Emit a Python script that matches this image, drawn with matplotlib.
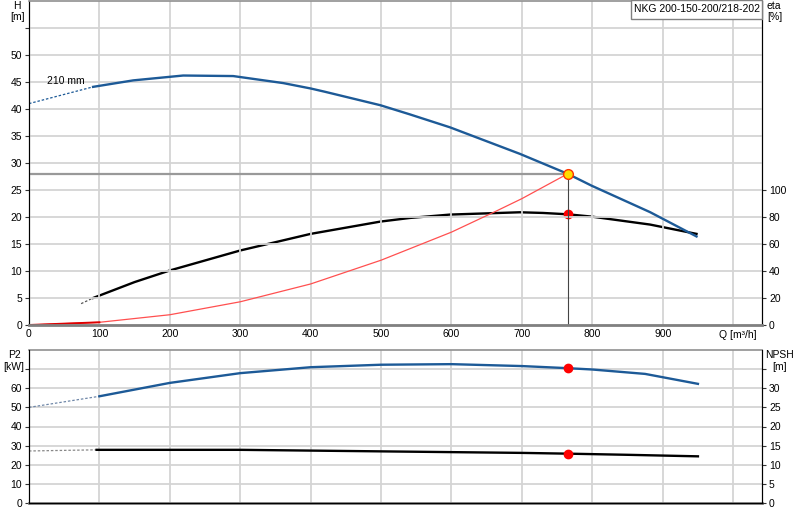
import matplotlib.pyplot as plt
from matplotlib.patches import Rectangle

plt.rcParams['font.family'] = ['Liberation Sans', 'DejaVu Sans']
plt.rcParams['font.size'] = 7.5

# head curve 210 mm (blue)
q_h_dot = [0, 91]
h_dot = [41.0, 44.1]
q_h = [91, 148, 219, 290, 361, 400, 420, 499, 541, 598, 697, 765, 799, 882, 948]
h = [44.1, 45.3, 46.2, 46.1, 44.8, 43.8, 43.2, 40.7, 39.0, 36.6, 31.7, 28.0, 25.8, 20.9, 16.4]

# efficiency (black), in %
q_eta_dot = [74, 91]
eta_dot = [15.8, 20.0]
q_eta = [91, 150, 200, 300, 400, 499, 541, 598, 697, 730, 765, 799, 882, 948]
eta = [20.0, 31.8, 40.4, 55.2, 67.5, 76.6, 79.3, 81.8, 83.5, 83.0, 82.0, 80.3, 74.4, 67.5]

# system curve (red)
q_sys = [0, 100, 200, 300, 400, 500, 600, 662, 700, 765]
h_sys = [0, 0.5, 1.9, 4.3, 7.6, 12.0, 17.2, 21.0, 23.4, 28.0]

# duty point
q_op = 765
h_op = 28.0
eta_op = 82.0
p2_op = 70.5
npsh_op = 12.9

# power P2 (blue) and NPSH (black)
q_p2_dot = [0, 100]
p2_dot = [50.0, 55.8]
q_p2 = [100, 200, 300, 400, 500, 600, 700, 765, 800, 875, 950]
p2 = [55.8, 62.8, 67.9, 71.0, 72.3, 72.6, 71.6, 70.5, 69.8, 67.5, 62.3]
q_npsh_dot = [0, 96]
npsh_dot = [13.6, 13.9]
q_npsh = [96, 300, 400, 500, 600, 700, 765, 850, 950]
npsh = [13.9, 13.9, 13.7, 13.5, 13.3, 13.1, 12.9, 12.6, 12.2]

blue = '#1d5a97'
grid_c = '#d4d4d4'

fig = plt.figure(figsize=(8, 5.2), dpi=100)
ax = fig.add_axes([29/800, 1 - 325/520, 733/800, 324/520])
ax2 = ax.twinx()
bx = fig.add_axes([29/800, 1 - 503/520, 733/800, 153/520])
bx2 = bx.twinx()

xmax = 1041
for a in (ax, bx):
    a.set_xlim(0, xmax)
    a.set_xticks(range(100, 1001, 100))
    for q in range(100, 1001, 100):
        a.axvline(q, color=grid_c, lw=1.3, zorder=0)
    a.spines['left'].set_color('black')
    a.spines['bottom'].set_color('#808080')
    a.spines['bottom'].set_linewidth(2)
    a.spines['top'].set_color('#909090')
    a.spines['top'].set_linewidth(1.2)
    a.tick_params(axis='y', length=3, width=0.8, color='#333333', pad=2)
    a.tick_params(axis='x', length=0, pad=3)

# top panel
ax.set_ylim(0, 60)
ax.set_yticks(range(0, 56, 5))
ax.set_yticklabels([str(v) for v in range(0, 51, 5)] + [''])
for v in range(5, 56, 5):
    ax.axhline(v, color=grid_c, lw=1.3, zorder=0)
ax.set_xticks(range(0, 1001, 100))
ax.set_xticklabels([str(v) for v in range(0, 901, 100)] + [''])

ax2.set_ylim(0, 240)
ax2.set_yticks(range(0, 101, 20))
ax2.spines['right'].set_color('black')
ax2.spines['top'].set_visible(False)
ax2.tick_params(axis='y', length=3, width=0.8, color='#333333', pad=2)

ax.plot(q_h_dot, h_dot, color=blue, lw=0.9, ls=(0, (2, 1.5)))
ax.plot(q_h, h, color=blue, lw=1.7)
ax.plot(q_sys, h_sys, color='#ff5050', lw=0.9)
ax.plot(q_sys[:2], h_sys[:2], color='#dd0000', lw=1.4)
ax.plot([0, q_op], [h_op, h_op], color='#999999', lw=1.6, zorder=1)
ax.plot([q_op, q_op], [0, h_op], color='#444444', lw=0.8)
ax2.plot(q_eta_dot, eta_dot, color='#555555', lw=0.9, ls=(0, (2, 1.5)))
ax2.plot(q_eta, eta, color='black', lw=1.7)
ax2.plot([q_op], [eta_op], 'o', color='red', ms=6, zorder=5)
ax.plot([q_op], [h_op], 'o', mfc='#ffdd00', mec='#ff3300', ms=7, mew=1, zorder=6)
ax.set_zorder(ax2.get_zorder() + 1)
ax.patch.set_visible(False)

ax.text(25, 45.1, '210 mm', va='center')
fig.text(16.5/800, 1 - 6/520, 'H', ha='center', va='center')
fig.text(17.5/800, 1 - 17/520, '[m]', ha='center', va='center')
fig.text(774/800, 1 - 6/520, 'eta', ha='center', va='center')
fig.text(775/800, 1 - 17/520, '[%]', ha='center', va='center')
fig.text(757/800, 1 - 335/520, 'Q [m³/h]', ha='right', va='center')
fig.patches.append(Rectangle((631/800, 1 - 19/520), 131/800, 19/520, transform=fig.transFigure,
                             fc='white', ec='#808080', lw=1, zorder=10))
fig.text(760/800, 1 - 8.5/520, 'NKG 200-150-200/218-202', ha='right', va='center', zorder=11)

# bottom panel
bx.set_ylim(0, 80)
bx.set_yticks(range(0, 71, 10))
bx.set_yticklabels([str(v) for v in range(0, 61, 10)] + [''])
for v in range(10, 71, 10):
    bx.axhline(v, color=grid_c, lw=1.3, zorder=0)
bx.set_xticklabels([])

bx2.set_ylim(0, 40)
bx2.set_yticks(range(0, 36, 5))
bx2.set_yticklabels([str(v) for v in range(0, 31, 5)] + [''])
bx2.spines['right'].set_color('black')
bx2.spines['top'].set_visible(False)
bx2.tick_params(axis='y', length=3, width=0.8, color='#333333', pad=2)

bx.plot(q_p2_dot, p2_dot, color='#6f87a8', lw=0.9, ls=(0, (2, 1.5)))
bx.plot(q_p2, p2, color=blue, lw=1.7)
bx.plot([q_op], [p2_op], 'o', color='red', ms=6, zorder=5)
bx2.plot(q_npsh_dot, npsh_dot, color='#888888', lw=0.9, ls=(0, (2, 1.5)))
bx2.plot(q_npsh, npsh, color='black', lw=1.7)
bx2.plot([q_op], [npsh_op], 'o', color='red', ms=6, zorder=5)

fig.text(14/800, 1 - 355/520, 'P2', ha='center', va='center')
fig.text(14/800, 1 - 367/520, '[kW]', ha='center', va='center')
fig.text(780/800, 1 - 355/520, 'NPSH', ha='center', va='center')
fig.text(780/800, 1 - 367/520, '[m]', ha='center', va='center')

fig.savefig('out.png', dpi=100)
